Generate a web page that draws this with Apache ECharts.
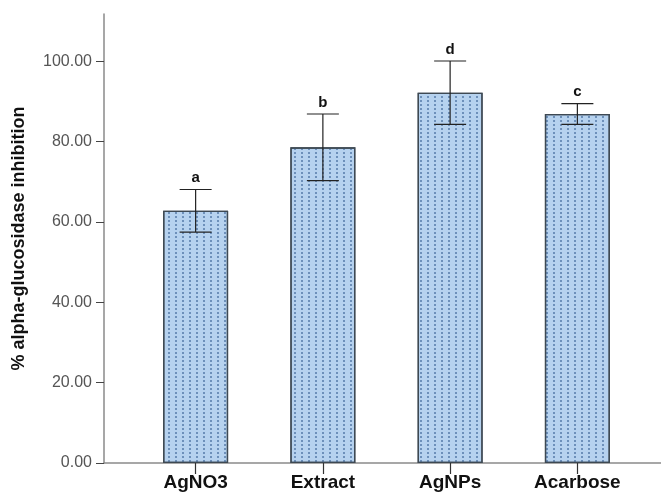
<!DOCTYPE html>
<html>
<head>
<meta charset="utf-8">
<script src="https://cdn.jsdelivr.net/npm/echarts@6/dist/echarts.min.js"></script>
<style>html,body{margin:0;padding:0;background:#fff}#c{width:661px;height:500px}</style>
</head>
<body>
<div id="c"></div>
<script>
var categories = ['AgNO3', 'Extract', 'AgNPs', 'Acarbose'];
var meanValues = [62.8, 78.6, 92.2, 86.9];
var errorValues = [5.3, 8.3, 7.9, 2.6];
var groupLetters = ['a', 'b', 'd', 'c'];
var yTickValues = [0, 20, 40, 60, 80, 100];

var FONT = '"Liberation Sans", Arial, sans-serif';
var chart = echarts.init(document.getElementById('c'));

var errData = categories.map(function (c, i) {
  return [i, meanValues[i] - errorValues[i], meanValues[i] + errorValues[i], groupLetters[i]];
});

chart.setOption({
  animation: false,
  backgroundColor: '#ffffff',
  grid: [
    { left: 104, right: 0, top: 14, bottom: 37 },
    { left: 132, right: 20, top: 14, bottom: 37 }
  ],
  xAxis: [
    { type: 'value', gridIndex: 0, min: 0, max: 1,
      axisLine: { show: true, onZero: false, lineStyle: { color: '#8a8a8a', width: 1.5 } },
      axisTick: { show: false }, axisLabel: { show: false }, splitLine: { show: false } },
    { type: 'category', gridIndex: 1, data: categories,
      axisLine: { show: false },
      axisTick: { show: true, alignWithLabel: true, length: 11, lineStyle: { color: '#333', width: 1.2 } },
      axisLabel: { color: '#111', fontFamily: FONT, fontWeight: 'bold', fontSize: 19, margin: 10 } }
  ],
  yAxis: [
    { type: 'value', gridIndex: 0, min: 0, max: 111.8, interval: 20,
      name: '% alpha-glucosidase inhibition', nameLocation: 'middle', nameGap: 76,
      nameTextStyle: { fontFamily: FONT, fontWeight: 'bold', fontSize: 18, color: '#111' },
      axisLine: { show: true, lineStyle: { color: '#8a8a8a', width: 1.5 } },
      axisTick: { show: true, length: 8, customValues: yTickValues, lineStyle: { color: '#444' } },
      axisLabel: { color: '#555', fontFamily: FONT, fontSize: 16, margin: 12, customValues: yTickValues,
        formatter: function (v) { return yTickValues.indexOf(v) >= 0 ? v.toFixed(2) : ''; } },
      splitLine: { show: false } },
    { type: 'value', gridIndex: 1, min: 0, max: 111.8, show: false }
  ],
  series: [
    { type: 'bar', xAxisIndex: 1, yAxisIndex: 1, data: meanValues, barWidth: 65,
      itemStyle: { color: '#b6d2ef', borderColor: '#3e4953', borderWidth: 1.3,
        decal: { symbol: 'rect', symbolSize: 1, color: 'rgba(60,100,150,0.6)',
          dashArrayX: [1.5, 5], dashArrayY: [1.5, 2], rotation: 0 } } },
    { type: 'custom', xAxisIndex: 1, yAxisIndex: 1, data: errData, z: 5,
      renderItem: function (params, api) {
        var x = api.value(0);
        var lo = api.coord([x, api.value(1)]);
        var hi = api.coord([x, api.value(2)]);
        var hw = 16;
        var st = { stroke: '#222', lineWidth: 1.2 };
        return { type: 'group', children: [
          { type: 'line', shape: { x1: hi[0], y1: hi[1], x2: lo[0], y2: lo[1] }, style: st },
          { type: 'line', shape: { x1: hi[0] - hw, y1: hi[1], x2: hi[0] + hw, y2: hi[1] }, style: st },
          { type: 'line', shape: { x1: lo[0] - hw, y1: lo[1], x2: lo[0] + hw, y2: lo[1] }, style: st },
          { type: 'text', x: hi[0], y: hi[1] - 4,
            style: { text: api.value(3), fill: '#111', font: 'bold 15px ' + FONT, textAlign: 'center', textVerticalAlign: 'bottom' } }
        ] };
      } }
  ]
});
</script>
</body>
</html>
